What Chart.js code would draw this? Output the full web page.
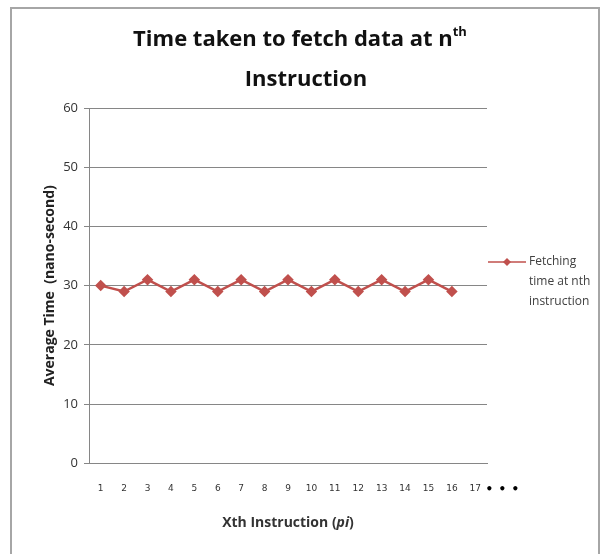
<!DOCTYPE html>
<html>
<head>
<meta charset="utf-8">
<script src="https://cdn.jsdelivr.net/npm/chart.js@4"></script>
<style>
  body { margin: 0; background: #fff; }
  #frame { position: absolute; left: 10px; top: 7px; width: 586px; height: 560px; border: 2px solid #a6a6a6; }
  #line-chart { position: absolute; left: 0; top: 0; }
</style>
</head>
<body>
<div id="frame"></div>
<canvas id="line-chart" width="603" height="554"></canvas>
<script>
var instructions = ["1", "2", "3", "4", "5", "6", "7", "8", "9", "10", "11", "12", "13", "14", "15", "16", "17"];
var fetchTimes = [30, 29, 31, 29, 31, 29, 31, 29, 31, 29, 31, 29, 31, 29, 31, 29];
var seriesName = ["Fetching", "time at nth", "instruction"];
var lineColor = "#c0504d";

// draw a row of text pieces with their own fonts, centred on cx
function mixedText(ctx, parts, cx, y) {
  var total = 0;
  parts.forEach(function(p) { ctx.font = p[0]; total += ctx.measureText(p[1]).width; });
  var px = cx - total / 2;
  ctx.textAlign = "left";
  ctx.textBaseline = "middle";
  parts.forEach(function(p) {
    ctx.font = p[0];
    ctx.fillText(p[1], px, y + (p[2] || 0));
    px += ctx.measureText(p[1]).width;
  });
}

// title, legend, x title and the dots after 17 are drawn by hand
var extras = {
  id: "extras",
  afterDraw: function(chart) {
    var ctx = chart.ctx;
    var x = chart.scales.x;
    var area = chart.chartArea;
    ctx.save();

    // title with superscript
    ctx.fillStyle = "#111";
    mixedText(ctx, [["bold 22px 'Open Sans'", "Time taken to fetch data at n"], ["bold 13px 'Open Sans'", "th", -8]], 300, 40);
    mixedText(ctx, [["bold 22px 'Open Sans'", "Instruction"]], 306, 80);

    // dots after the last category
    var last = x.getPixelForValue(instructions.length - 1);
    ctx.fillStyle = "#000";
    ctx.font = "bold 12px 'DejaVu Sans'";
    ctx.textAlign = "center";
    ctx.textBaseline = "middle";
    ["\u2022", "\u2022", "\u2022"].forEach(function(d, i) {
      ctx.fillText(d, last + 14 + i * 13, 490);
    });

    // x axis title with italic pi
    ctx.fillStyle = "#333";
    mixedText(ctx, [["bold 14px 'Open Sans'", "Xth Instruction ("], ["bold italic 14px 'Open Sans'", "pi"], ["bold 14px 'Open Sans'", ")"]], (area.left + area.right) / 2, 523);

    // legend
    var ly = 262;
    ctx.strokeStyle = lineColor;
    ctx.lineWidth = 1.5;
    ctx.beginPath();
    ctx.moveTo(488, ly);
    ctx.lineTo(526, ly);
    ctx.stroke();
    ctx.fillStyle = lineColor;
    ctx.beginPath();
    ctx.moveTo(507, ly - 4);
    ctx.lineTo(511, ly);
    ctx.lineTo(507, ly + 4);
    ctx.lineTo(503, ly);
    ctx.closePath();
    ctx.fill();
    ctx.fillStyle = "#404040";
    ctx.font = "12px 'Open Sans'";
    ctx.textAlign = "left";
    seriesName.forEach(function(t, i) {
      ctx.fillText(t, 529, ly + i * 20);
    });
    ctx.restore();
  }
};

new Chart(document.getElementById("line-chart"), {
    type: 'line',
    data: {
      labels: instructions,
      datasets: [
        {
          label: seriesName.join(" "),
          data: fetchTimes,
          borderColor: lineColor,
          backgroundColor: lineColor,
          borderWidth: 2.5,
          pointStyle: 'rectRot',
          pointRadius: 4,
          pointHoverRadius: 4,
          fill: false,
          tension: 0
        }
      ]
    },
    options: {
      responsive: false,
      animation: false,
      layout: { padding: { left: 42, right: 116, top: 108, bottom: 40 } },
      plugins: {
        legend: { display: false },
        tooltip: { enabled: false },
        title: { display: false }
      },
      scales: {
        x: {
          offset: true,
          grid: { display: false, drawTicks: false },
          border: { color: '#868686', width: 1 },
          ticks: { color: '#333', padding: 20, font: { family: "'DejaVu Sans'", size: 9 }, maxRotation: 0, autoSkip: false }
        },
        y: {
          min: 0,
          max: 60,
          afterFit: function(s) { s.width = 47; },
          grid: { color: '#868686', tickLength: 5, drawTicks: true },
          border: { color: '#868686', width: 1 },
          ticks: { stepSize: 10, color: '#333', padding: 6, font: { family: "'Open Sans'", size: 13 } },
          title: {
            display: true,
            text: 'Average Time  (nano-second)',
            color: '#222',
            font: { family: "'Open Sans'", size: 14, weight: 'bold' },
            padding: { top: 0, bottom: 4 }
          }
        }
      }
    },
    plugins: [extras]
});
</script>
</body>
</html>
